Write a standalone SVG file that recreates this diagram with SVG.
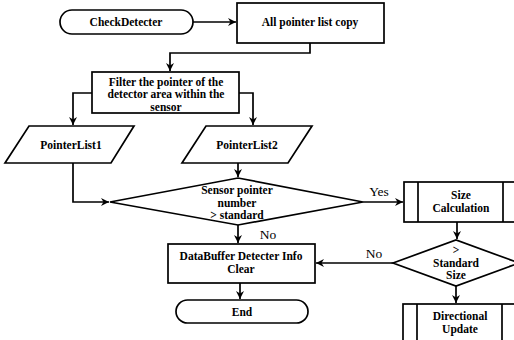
<svg xmlns="http://www.w3.org/2000/svg" width="514" height="340" viewBox="0 0 514 340">
<defs>
<style>
.s{fill:#fff;stroke:#000;stroke-width:1.7}
.c{fill:none;stroke:#000;stroke-width:1.7}
.t{font-family:"Liberation Serif","Times New Roman",serif;font-weight:bold;font-size:11.5px;fill:#000;text-anchor:middle}
.l{font-family:"Liberation Serif","Times New Roman",serif;font-size:13.5px;fill:#000;text-anchor:middle}
</style>
<marker id="a" markerWidth="10" markerHeight="10" refX="8" refY="5" orient="auto" markerUnits="userSpaceOnUse">
<path d="M0,1 L8,5 L0,9 L2.5,5 Z" fill="#000"/>
</marker>
</defs>
<rect width="514" height="340" fill="#fff"/>
<g id="connectors">
<path class="c" d="M193,22 H236" marker-end="url(#a)"/>
<path class="c" d="M310,43 V53 H170 V71" marker-end="url(#a)"/>
<path class="c" d="M92,93 H73 V125" marker-end="url(#a)"/>
<path class="c" d="M239,93 H253 V125" marker-end="url(#a)"/>
<path class="c" d="M73,163 V202 H109" marker-end="url(#a)"/>
<path class="c" d="M238,163 V177" marker-end="url(#a)"/>
<path class="c" d="M363,202 H403" marker-end="url(#a)"/>
<path class="c" d="M238,225 V243" marker-end="url(#a)"/>
<path class="c" d="M457,222 V239" marker-end="url(#a)"/>
<path class="c" d="M393,263 H316" marker-end="url(#a)"/>
<path class="c" d="M456,286 V303" marker-end="url(#a)"/>
<path class="c" d="M240,283 V299" marker-end="url(#a)"/>
<text class="l" x="379" y="196">Yes</text>
<text class="l" x="268" y="239">No</text>
<text class="l" x="374" y="258">No</text>
</g>
<g id="start">
<rect class="s" x="60" y="10" width="133" height="24" rx="12"/>
<text class="t" x="126" y="26">CheckDetecter</text>
</g>
<g id="copy">
<rect class="s" x="237" y="3" width="147" height="40"/>
<text class="t" x="310" y="26">All pointer list copy</text>
</g>
<g id="filter">
<rect class="s" x="92" y="72" width="147" height="41"/>
<text class="t" x="166" y="85.5">Filter the pointer of the</text>
<text class="t" x="166" y="98">detector area within the</text>
<text class="t" x="166" y="110.5">sensor</text>
</g>
<g id="pl1">
<polygon class="s" points="29,126 134,126 111,163 5,163"/>
<text class="t" x="71" y="149">PointerList1</text>
</g>
<g id="pl2">
<polygon class="s" points="206,126 312,126 288,163 182,163"/>
<text class="t" x="247" y="149">PointerList2</text>
</g>
<g id="decision1">
<polygon class="s" points="110,202 238,178 363,202 238,225"/>
<text class="t" x="237" y="194">Sensor pointer</text>
<text class="t" x="237" y="206.5">number</text>
<text class="t" x="237" y="219">&gt; standard</text>
</g>
<g id="size">
<rect class="s" x="404" y="182" width="116" height="40"/>
<line class="c" x1="418" y1="182" x2="418" y2="222"/>
<line class="c" x1="503" y1="182" x2="503" y2="222"/>
<text class="t" x="461" y="199">Size</text>
<text class="t" x="461" y="211.5">Calculation</text>
</g>
<g id="decision2">
<polygon class="s" points="393,263 456,240 519,263 456,286"/>
<text class="t" x="456" y="254">&gt;</text>
<text class="t" x="456" y="266.5">Standard</text>
<text class="t" x="456" y="279">Size</text>
</g>
<g id="clear">
<rect class="s" x="168" y="244" width="147" height="39"/>
<text class="t" x="241" y="260">DataBuffer Detecter Info</text>
<text class="t" x="241" y="272.5">Clear</text>
</g>
<g id="end">
<rect class="s" x="176" y="300" width="132" height="23" rx="11.5"/>
<text class="t" x="242" y="316">End</text>
</g>
<g id="directional">
<rect class="s" x="403" y="304" width="117" height="45"/>
<line class="c" x1="417" y1="304" x2="417" y2="349"/>
<line class="c" x1="502" y1="304" x2="502" y2="349"/>
<text class="t" x="460" y="320">Directional</text>
<text class="t" x="460" y="332.5">Update</text>
</g>
</svg>
